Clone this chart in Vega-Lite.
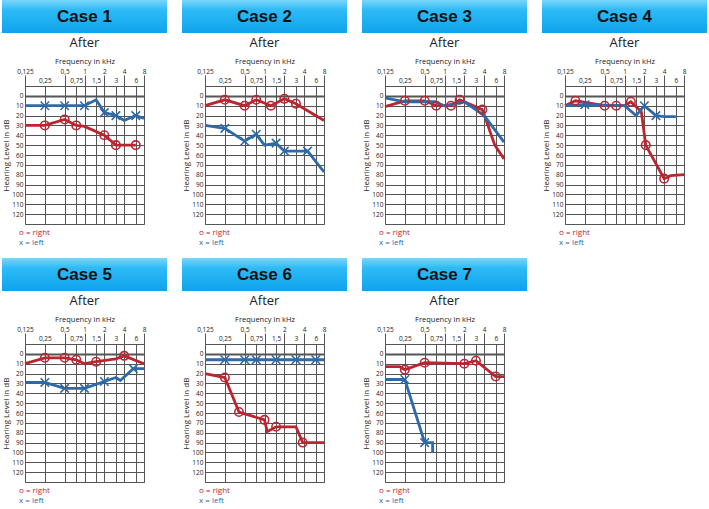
{
"$schema": "https://vega.github.io/schema/vega-lite/v6.json",
"padding": {"left": 2, "top": 0, "right": 0, "bottom": 0},
"columns": 4,
"spacing": {"row": 10, "column": 15},
"datasets": {"pts": [
{"c":1,"e":"right","i":0,"f":0.125,"db":30,"m":0},{"c":1,"e":"right","i":1,"f":0.25,"db":30,"m":1},{"c":1,"e":"right","i":2,"f":0.5,"db":24,"m":1},{"c":1,"e":"right","i":3,"f":0.75,"db":30,"m":1},{"c":1,"e":"right","i":4,"f":1,"db":31,"m":0},{"c":1,"e":"right","i":5,"f":2,"db":40,"m":1},{"c":1,"e":"right","i":6,"f":3,"db":50,"m":1},{"c":1,"e":"right","i":7,"f":6,"db":50,"m":1},
{"c":1,"e":"left","i":0,"f":0.125,"db":10,"m":0},{"c":1,"e":"left","i":1,"f":0.25,"db":10,"m":1},{"c":1,"e":"left","i":2,"f":0.5,"db":10,"m":1},{"c":1,"e":"left","i":3,"f":1,"db":10,"m":1},{"c":1,"e":"left","i":4,"f":1.5,"db":4,"m":0},{"c":1,"e":"left","i":5,"f":2,"db":17,"m":1},{"c":1,"e":"left","i":6,"f":3,"db":20,"m":1},{"c":1,"e":"left","i":7,"f":4,"db":25,"m":0},{"c":1,"e":"left","i":8,"f":6,"db":20,"m":1},{"c":1,"e":"left","i":9,"f":8,"db":23,"m":0},
{"c":2,"e":"right","i":0,"f":0.125,"db":10,"m":0},{"c":2,"e":"right","i":1,"f":0.25,"db":4,"m":1},{"c":2,"e":"right","i":2,"f":0.5,"db":10,"m":1},{"c":2,"e":"right","i":3,"f":0.75,"db":4,"m":1},{"c":2,"e":"right","i":4,"f":1.25,"db":10,"m":1},{"c":2,"e":"right","i":5,"f":2,"db":3,"m":1},{"c":2,"e":"right","i":6,"f":3,"db":8,"m":1},{"c":2,"e":"right","i":7,"f":8,"db":25,"m":0},
{"c":2,"e":"left","i":0,"f":0.125,"db":30,"m":0},{"c":2,"e":"left","i":1,"f":0.25,"db":33,"m":1},{"c":2,"e":"left","i":2,"f":0.5,"db":46,"m":1},{"c":2,"e":"left","i":3,"f":0.75,"db":39,"m":1},{"c":2,"e":"left","i":4,"f":1,"db":50,"m":0},{"c":2,"e":"left","i":5,"f":1.5,"db":48,"m":1},{"c":2,"e":"left","i":6,"f":2,"db":56,"m":1},{"c":2,"e":"left","i":7,"f":4.5,"db":56,"m":1},{"c":2,"e":"left","i":8,"f":8,"db":77,"m":0},
{"c":3,"e":"right","i":0,"f":0.125,"db":11,"m":0},{"c":3,"e":"right","i":1,"f":0.25,"db":5,"m":1},{"c":3,"e":"right","i":2,"f":0.5,"db":5,"m":1},{"c":3,"e":"right","i":3,"f":0.75,"db":10,"m":1},{"c":3,"e":"right","i":4,"f":1.25,"db":10,"m":1},{"c":3,"e":"right","i":5,"f":1.7,"db":4,"m":1},{"c":3,"e":"right","i":6,"f":3.75,"db":14,"m":1},{"c":3,"e":"right","i":7,"f":4.3,"db":25,"m":0},{"c":3,"e":"right","i":8,"f":5.8,"db":50,"m":0},{"c":3,"e":"right","i":9,"f":8,"db":64,"m":0},
{"c":3,"e":"left","i":0,"f":0.125,"db":2,"m":0},{"c":3,"e":"left","i":1,"f":0.25,"db":6,"m":0},{"c":3,"e":"left","i":2,"f":0.7,"db":6,"m":0},{"c":3,"e":"left","i":3,"f":1,"db":10,"m":0},{"c":3,"e":"left","i":4,"f":2,"db":6,"m":0},{"c":3,"e":"left","i":5,"f":4,"db":20,"m":0},{"c":3,"e":"left","i":6,"f":8,"db":47,"m":0},
{"c":4,"e":"right","i":0,"f":0.125,"db":10,"m":0},{"c":4,"e":"right","i":1,"f":0.18,"db":5,"m":1},{"c":4,"e":"right","i":2,"f":0.5,"db":10,"m":1},{"c":4,"e":"right","i":3,"f":0.75,"db":10,"m":1},{"c":4,"e":"right","i":4,"f":1,"db":10,"m":0},{"c":4,"e":"right","i":5,"f":1.25,"db":6,"m":1},{"c":4,"e":"right","i":6,"f":1.8,"db":16,"m":0},{"c":4,"e":"right","i":7,"f":2.1,"db":50,"m":1},{"c":4,"e":"right","i":8,"f":4,"db":84,"m":1},{"c":4,"e":"right","i":9,"f":5,"db":81,"m":0},{"c":4,"e":"right","i":10,"f":8,"db":80,"m":0},
{"c":4,"e":"left","i":0,"f":0.125,"db":10,"m":0},{"c":4,"e":"left","i":1,"f":0.25,"db":9,"m":1},{"c":4,"e":"left","i":2,"f":1,"db":10,"m":0},{"c":4,"e":"left","i":3,"f":1.5,"db":20,"m":0},{"c":4,"e":"left","i":4,"f":2,"db":10,"m":1},{"c":4,"e":"left","i":5,"f":3,"db":20,"m":1},{"c":4,"e":"left","i":6,"f":4,"db":21,"m":0},{"c":4,"e":"left","i":7,"f":6,"db":21,"m":0},
{"c":5,"e":"right","i":0,"f":0.125,"db":10,"m":0},{"c":5,"e":"right","i":1,"f":0.25,"db":4,"m":1},{"c":5,"e":"right","i":2,"f":0.5,"db":4,"m":1},{"c":5,"e":"right","i":3,"f":0.75,"db":6,"m":1},{"c":5,"e":"right","i":4,"f":1,"db":10,"m":0},{"c":5,"e":"right","i":5,"f":1.5,"db":8,"m":1},{"c":5,"e":"right","i":6,"f":3,"db":5,"m":0},{"c":5,"e":"right","i":7,"f":4,"db":2,"m":1},{"c":5,"e":"right","i":8,"f":8,"db":10,"m":0},
{"c":5,"e":"left","i":0,"f":0.125,"db":29,"m":0},{"c":5,"e":"left","i":1,"f":0.25,"db":29,"m":1},{"c":5,"e":"left","i":2,"f":0.5,"db":35,"m":1},{"c":5,"e":"left","i":3,"f":1,"db":35,"m":1},{"c":5,"e":"left","i":4,"f":2,"db":28,"m":1},{"c":5,"e":"left","i":5,"f":3,"db":24,"m":0},{"c":5,"e":"left","i":6,"f":3.5,"db":27,"m":0},{"c":5,"e":"left","i":7,"f":5.5,"db":15,"m":1},{"c":5,"e":"left","i":8,"f":8,"db":15,"m":0},
{"c":6,"e":"right","i":0,"f":0.125,"db":20,"m":0},{"c":6,"e":"right","i":1,"f":0.25,"db":24,"m":1},{"c":6,"e":"right","i":2,"f":0.41,"db":59,"m":1},{"c":6,"e":"right","i":3,"f":1,"db":67,"m":1},{"c":6,"e":"right","i":4,"f":1.1,"db":79,"m":0},{"c":6,"e":"right","i":5,"f":1.5,"db":74,"m":1},{"c":6,"e":"right","i":6,"f":3,"db":74,"m":0},{"c":6,"e":"right","i":7,"f":3.8,"db":90,"m":1},{"c":6,"e":"right","i":8,"f":8,"db":90,"m":0},
{"c":6,"e":"left","i":0,"f":0.125,"db":6,"m":0},{"c":6,"e":"left","i":1,"f":0.25,"db":6,"m":1},{"c":6,"e":"left","i":2,"f":0.5,"db":6,"m":1},{"c":6,"e":"left","i":3,"f":0.75,"db":6,"m":1},{"c":6,"e":"left","i":4,"f":1.5,"db":6,"m":1},{"c":6,"e":"left","i":5,"f":3,"db":6,"m":1},{"c":6,"e":"left","i":6,"f":6,"db":6,"m":1},{"c":6,"e":"left","i":7,"f":8,"db":6,"m":0},
{"c":7,"e":"right","i":0,"f":0.125,"db":13,"m":0},{"c":7,"e":"right","i":1,"f":0.21,"db":13,"m":0},{"c":7,"e":"right","i":2,"f":0.25,"db":16,"m":1},{"c":7,"e":"right","i":3,"f":0.5,"db":9,"m":1},{"c":7,"e":"right","i":4,"f":2,"db":10,"m":1},{"c":7,"e":"right","i":5,"f":3,"db":7,"m":1},{"c":7,"e":"right","i":6,"f":6,"db":23,"m":1},{"c":7,"e":"right","i":7,"f":8,"db":23,"m":0},
{"c":7,"e":"left","i":0,"f":0.125,"db":26,"m":0},{"c":7,"e":"left","i":1,"f":0.25,"db":26,"m":1},{"c":7,"e":"left","i":2,"f":0.5,"db":90,"m":1},{"c":7,"e":"left","i":3,"f":0.66,"db":90,"m":0},{"c":7,"e":"left","i":4,"f":0.66,"db":100,"m":0}
]},
"concat": [
{"spacing": 3, "vconcat": [
 {"width": 119, "height": 33, "data": {"values": [{"case": "Case 1"}]}, "layer": [
  {"mark": {"type": "rect", "fill": {"gradient": "linear", "x1": 0, "y1": 0, "x2": 0, "y2": 1, "stops": [{"offset": 0, "color": "#7ad6fb"}, {"offset": 0.3, "color": "#2ebbf7"}, {"offset": 1, "color": "#0fa3ec"}]}}, "encoding": {"x": {"field": "case", "type": "nominal", "axis": null, "scale": {"paddingInner": 0, "paddingOuter": 0, "range": [-23, 142]}}}},
  {"mark": {"type": "text", "font": "Liberation Sans", "fontWeight": "bold", "fontSize": 17, "color": "#111"}, "encoding": {"x": {"field": "case", "type": "nominal", "axis": null}, "text": {"field": "case"}}}]},
 {"width": 119, "height": 138, "view": {"stroke": "#555"}, "title": "After", "data": {"name": "pts"}, "transform": [{"filter": "datum.c == 1"}],
  "encoding": {
   "x": {"field": "f", "type": "quantitative", "scale": {"type": "log", "base": 2, "domain": [0.125, 8], "nice": false}, "axis": {"orient": "top", "title": "Frequency in kHz", "values": [0.125,0.25,0.5,0.75,1,1.5,2,3,4,6,8], "labelExpr": "replace(toString(datum.value), '.', ',')", "labelPadding": {"condition": {"test": "indexof([0.25,0.75,1.5,3,6], datum.value) >= 0", "value": -8}, "value": 1}, "tickOpacity": {"condition": {"test": "indexof([0.25,0.75,1.5,3,6], datum.value) >= 0", "value": 0}, "value": 1}}},
   "y": {"field": "db", "type": "quantitative", "scale": {"domain": [-10, 130], "reverse": true, "nice": false, "zero": false}, "axis": {"values": [0,10,20,30,40,50,60,70,80,90,100,110,120], "title": "Hearing Level in dB", "gridWidth": {"condition": {"test": "datum.value === 0", "value": 2}, "value": 1}}},
   "color": {"field": "e", "type": "nominal", "scale": {"domain": ["right","left"], "range": ["#bb2530","#2e6aa8"]}, "legend": null}},
  "layer": [
   {"mark": {"type": "line", "strokeWidth": 2.8}, "encoding": {"order": {"field": "i", "type": "quantitative"}}},
   {"transform": [{"filter": "datum.m == 1"}], "mark": {"type": "point", "filled": false, "size": 72, "strokeWidth": 1.6, "opacity": 1}, "encoding": {"shape": {"field": "e", "type": "nominal", "scale": {"domain": ["right","left"], "range": ["circle", "M-1,-1L1,1M-1,1L1,-1"]}, "legend": null}}}]},
 {"width": 36, "height": 20, "data": {"values": [{"e": "right", "t": "o = right"}, {"e": "left", "t": "x = left"}]}, "mark": {"type": "text", "align": "left", "fontSize": 8, "font": "Open Sans"}, "encoding": {"x": {"datum": "k", "type": "nominal", "axis": null, "scale": {"range": [-6, -6]}}, "y": {"field": "t", "type": "nominal", "sort": null, "axis": null}, "text": {"field": "t"}, "color": {"field": "e", "type": "nominal", "scale": {"domain": ["right","left"], "range": ["#c4213a","#3a6fb0"]}, "legend": null}}}
]},
{"spacing": 3, "vconcat": [
 {"width": 119, "height": 33, "data": {"values": [{"case": "Case 2"}]}, "layer": [
  {"mark": {"type": "rect", "fill": {"gradient": "linear", "x1": 0, "y1": 0, "x2": 0, "y2": 1, "stops": [{"offset": 0, "color": "#7ad6fb"}, {"offset": 0.3, "color": "#2ebbf7"}, {"offset": 1, "color": "#0fa3ec"}]}}, "encoding": {"x": {"field": "case", "type": "nominal", "axis": null, "scale": {"paddingInner": 0, "paddingOuter": 0, "range": [-23, 142]}}}},
  {"mark": {"type": "text", "font": "Liberation Sans", "fontWeight": "bold", "fontSize": 17, "color": "#111"}, "encoding": {"x": {"field": "case", "type": "nominal", "axis": null}, "text": {"field": "case"}}}]},
 {"width": 119, "height": 138, "view": {"stroke": "#555"}, "title": "After", "data": {"name": "pts"}, "transform": [{"filter": "datum.c == 2"}],
  "encoding": {
   "x": {"field": "f", "type": "quantitative", "scale": {"type": "log", "base": 2, "domain": [0.125, 8], "nice": false}, "axis": {"orient": "top", "title": "Frequency in kHz", "values": [0.125,0.25,0.5,0.75,1,1.5,2,3,4,6,8], "labelExpr": "replace(toString(datum.value), '.', ',')", "labelPadding": {"condition": {"test": "indexof([0.25,0.75,1.5,3,6], datum.value) >= 0", "value": -8}, "value": 1}, "tickOpacity": {"condition": {"test": "indexof([0.25,0.75,1.5,3,6], datum.value) >= 0", "value": 0}, "value": 1}}},
   "y": {"field": "db", "type": "quantitative", "scale": {"domain": [-10, 130], "reverse": true, "nice": false, "zero": false}, "axis": {"values": [0,10,20,30,40,50,60,70,80,90,100,110,120], "title": "Hearing Level in dB", "gridWidth": {"condition": {"test": "datum.value === 0", "value": 2}, "value": 1}}},
   "color": {"field": "e", "type": "nominal", "scale": {"domain": ["right","left"], "range": ["#bb2530","#2e6aa8"]}, "legend": null}},
  "layer": [
   {"mark": {"type": "line", "strokeWidth": 2.8}, "encoding": {"order": {"field": "i", "type": "quantitative"}}},
   {"transform": [{"filter": "datum.m == 1"}], "mark": {"type": "point", "filled": false, "size": 72, "strokeWidth": 1.6, "opacity": 1}, "encoding": {"shape": {"field": "e", "type": "nominal", "scale": {"domain": ["right","left"], "range": ["circle", "M-1,-1L1,1M-1,1L1,-1"]}, "legend": null}}}]},
 {"width": 36, "height": 20, "data": {"values": [{"e": "right", "t": "o = right"}, {"e": "left", "t": "x = left"}]}, "mark": {"type": "text", "align": "left", "fontSize": 8, "font": "Open Sans"}, "encoding": {"x": {"datum": "k", "type": "nominal", "axis": null, "scale": {"range": [-6, -6]}}, "y": {"field": "t", "type": "nominal", "sort": null, "axis": null}, "text": {"field": "t"}, "color": {"field": "e", "type": "nominal", "scale": {"domain": ["right","left"], "range": ["#c4213a","#3a6fb0"]}, "legend": null}}}
]},
{"spacing": 3, "vconcat": [
 {"width": 119, "height": 33, "data": {"values": [{"case": "Case 3"}]}, "layer": [
  {"mark": {"type": "rect", "fill": {"gradient": "linear", "x1": 0, "y1": 0, "x2": 0, "y2": 1, "stops": [{"offset": 0, "color": "#7ad6fb"}, {"offset": 0.3, "color": "#2ebbf7"}, {"offset": 1, "color": "#0fa3ec"}]}}, "encoding": {"x": {"field": "case", "type": "nominal", "axis": null, "scale": {"paddingInner": 0, "paddingOuter": 0, "range": [-23, 142]}}}},
  {"mark": {"type": "text", "font": "Liberation Sans", "fontWeight": "bold", "fontSize": 17, "color": "#111"}, "encoding": {"x": {"field": "case", "type": "nominal", "axis": null}, "text": {"field": "case"}}}]},
 {"width": 119, "height": 138, "view": {"stroke": "#555"}, "title": "After", "data": {"name": "pts"}, "transform": [{"filter": "datum.c == 3"}],
  "encoding": {
   "x": {"field": "f", "type": "quantitative", "scale": {"type": "log", "base": 2, "domain": [0.125, 8], "nice": false}, "axis": {"orient": "top", "title": "Frequency in kHz", "values": [0.125,0.25,0.5,0.75,1,1.5,2,3,4,6,8], "labelExpr": "replace(toString(datum.value), '.', ',')", "labelPadding": {"condition": {"test": "indexof([0.25,0.75,1.5,3,6], datum.value) >= 0", "value": -8}, "value": 1}, "tickOpacity": {"condition": {"test": "indexof([0.25,0.75,1.5,3,6], datum.value) >= 0", "value": 0}, "value": 1}}},
   "y": {"field": "db", "type": "quantitative", "scale": {"domain": [-10, 130], "reverse": true, "nice": false, "zero": false}, "axis": {"values": [0,10,20,30,40,50,60,70,80,90,100,110,120], "title": "Hearing Level in dB", "gridWidth": {"condition": {"test": "datum.value === 0", "value": 2}, "value": 1}}},
   "color": {"field": "e", "type": "nominal", "scale": {"domain": ["right","left"], "range": ["#bb2530","#2e6aa8"]}, "legend": null}},
  "layer": [
   {"mark": {"type": "line", "strokeWidth": 2.8}, "encoding": {"order": {"field": "i", "type": "quantitative"}}},
   {"transform": [{"filter": "datum.m == 1"}], "mark": {"type": "point", "filled": false, "size": 72, "strokeWidth": 1.6, "opacity": 1}, "encoding": {"shape": {"field": "e", "type": "nominal", "scale": {"domain": ["right","left"], "range": ["circle", "M-1,-1L1,1M-1,1L1,-1"]}, "legend": null}}}]},
 {"width": 36, "height": 20, "data": {"values": [{"e": "right", "t": "o = right"}, {"e": "left", "t": "x = left"}]}, "mark": {"type": "text", "align": "left", "fontSize": 8, "font": "Open Sans"}, "encoding": {"x": {"datum": "k", "type": "nominal", "axis": null, "scale": {"range": [-6, -6]}}, "y": {"field": "t", "type": "nominal", "sort": null, "axis": null}, "text": {"field": "t"}, "color": {"field": "e", "type": "nominal", "scale": {"domain": ["right","left"], "range": ["#c4213a","#3a6fb0"]}, "legend": null}}}
]},
{"spacing": 3, "vconcat": [
 {"width": 119, "height": 33, "data": {"values": [{"case": "Case 4"}]}, "layer": [
  {"mark": {"type": "rect", "fill": {"gradient": "linear", "x1": 0, "y1": 0, "x2": 0, "y2": 1, "stops": [{"offset": 0, "color": "#7ad6fb"}, {"offset": 0.3, "color": "#2ebbf7"}, {"offset": 1, "color": "#0fa3ec"}]}}, "encoding": {"x": {"field": "case", "type": "nominal", "axis": null, "scale": {"paddingInner": 0, "paddingOuter": 0, "range": [-23, 142]}}}},
  {"mark": {"type": "text", "font": "Liberation Sans", "fontWeight": "bold", "fontSize": 17, "color": "#111"}, "encoding": {"x": {"field": "case", "type": "nominal", "axis": null}, "text": {"field": "case"}}}]},
 {"width": 119, "height": 138, "view": {"stroke": "#555"}, "title": "After", "data": {"name": "pts"}, "transform": [{"filter": "datum.c == 4"}],
  "encoding": {
   "x": {"field": "f", "type": "quantitative", "scale": {"type": "log", "base": 2, "domain": [0.125, 8], "nice": false}, "axis": {"orient": "top", "title": "Frequency in kHz", "values": [0.125,0.25,0.5,0.75,1,1.5,2,3,4,6,8], "labelExpr": "replace(toString(datum.value), '.', ',')", "labelPadding": {"condition": {"test": "indexof([0.25,0.75,1.5,3,6], datum.value) >= 0", "value": -8}, "value": 1}, "tickOpacity": {"condition": {"test": "indexof([0.25,0.75,1.5,3,6], datum.value) >= 0", "value": 0}, "value": 1}}},
   "y": {"field": "db", "type": "quantitative", "scale": {"domain": [-10, 130], "reverse": true, "nice": false, "zero": false}, "axis": {"values": [0,10,20,30,40,50,60,70,80,90,100,110,120], "title": "Hearing Level in dB", "gridWidth": {"condition": {"test": "datum.value === 0", "value": 2}, "value": 1}}},
   "color": {"field": "e", "type": "nominal", "scale": {"domain": ["right","left"], "range": ["#bb2530","#2e6aa8"]}, "legend": null}},
  "layer": [
   {"mark": {"type": "line", "strokeWidth": 2.8}, "encoding": {"order": {"field": "i", "type": "quantitative"}}},
   {"transform": [{"filter": "datum.m == 1"}], "mark": {"type": "point", "filled": false, "size": 72, "strokeWidth": 1.6, "opacity": 1}, "encoding": {"shape": {"field": "e", "type": "nominal", "scale": {"domain": ["right","left"], "range": ["circle", "M-1,-1L1,1M-1,1L1,-1"]}, "legend": null}}}]},
 {"width": 36, "height": 20, "data": {"values": [{"e": "right", "t": "o = right"}, {"e": "left", "t": "x = left"}]}, "mark": {"type": "text", "align": "left", "fontSize": 8, "font": "Open Sans"}, "encoding": {"x": {"datum": "k", "type": "nominal", "axis": null, "scale": {"range": [-6, -6]}}, "y": {"field": "t", "type": "nominal", "sort": null, "axis": null}, "text": {"field": "t"}, "color": {"field": "e", "type": "nominal", "scale": {"domain": ["right","left"], "range": ["#c4213a","#3a6fb0"]}, "legend": null}}}
]},
{"spacing": 3, "vconcat": [
 {"width": 119, "height": 33, "data": {"values": [{"case": "Case 5"}]}, "layer": [
  {"mark": {"type": "rect", "fill": {"gradient": "linear", "x1": 0, "y1": 0, "x2": 0, "y2": 1, "stops": [{"offset": 0, "color": "#7ad6fb"}, {"offset": 0.3, "color": "#2ebbf7"}, {"offset": 1, "color": "#0fa3ec"}]}}, "encoding": {"x": {"field": "case", "type": "nominal", "axis": null, "scale": {"paddingInner": 0, "paddingOuter": 0, "range": [-23, 142]}}}},
  {"mark": {"type": "text", "font": "Liberation Sans", "fontWeight": "bold", "fontSize": 17, "color": "#111"}, "encoding": {"x": {"field": "case", "type": "nominal", "axis": null}, "text": {"field": "case"}}}]},
 {"width": 119, "height": 138, "view": {"stroke": "#555"}, "title": "After", "data": {"name": "pts"}, "transform": [{"filter": "datum.c == 5"}],
  "encoding": {
   "x": {"field": "f", "type": "quantitative", "scale": {"type": "log", "base": 2, "domain": [0.125, 8], "nice": false}, "axis": {"orient": "top", "title": "Frequency in kHz", "values": [0.125,0.25,0.5,0.75,1,1.5,2,3,4,6,8], "labelExpr": "replace(toString(datum.value), '.', ',')", "labelPadding": {"condition": {"test": "indexof([0.25,0.75,1.5,3,6], datum.value) >= 0", "value": -8}, "value": 1}, "tickOpacity": {"condition": {"test": "indexof([0.25,0.75,1.5,3,6], datum.value) >= 0", "value": 0}, "value": 1}}},
   "y": {"field": "db", "type": "quantitative", "scale": {"domain": [-10, 130], "reverse": true, "nice": false, "zero": false}, "axis": {"values": [0,10,20,30,40,50,60,70,80,90,100,110,120], "title": "Hearing Level in dB", "gridWidth": {"condition": {"test": "datum.value === 0", "value": 2}, "value": 1}}},
   "color": {"field": "e", "type": "nominal", "scale": {"domain": ["right","left"], "range": ["#bb2530","#2e6aa8"]}, "legend": null}},
  "layer": [
   {"mark": {"type": "line", "strokeWidth": 2.8}, "encoding": {"order": {"field": "i", "type": "quantitative"}}},
   {"transform": [{"filter": "datum.m == 1"}], "mark": {"type": "point", "filled": false, "size": 72, "strokeWidth": 1.6, "opacity": 1}, "encoding": {"shape": {"field": "e", "type": "nominal", "scale": {"domain": ["right","left"], "range": ["circle", "M-1,-1L1,1M-1,1L1,-1"]}, "legend": null}}}]},
 {"width": 36, "height": 20, "data": {"values": [{"e": "right", "t": "o = right"}, {"e": "left", "t": "x = left"}]}, "mark": {"type": "text", "align": "left", "fontSize": 8, "font": "Open Sans"}, "encoding": {"x": {"datum": "k", "type": "nominal", "axis": null, "scale": {"range": [-6, -6]}}, "y": {"field": "t", "type": "nominal", "sort": null, "axis": null}, "text": {"field": "t"}, "color": {"field": "e", "type": "nominal", "scale": {"domain": ["right","left"], "range": ["#c4213a","#3a6fb0"]}, "legend": null}}}
]},
{"spacing": 3, "vconcat": [
 {"width": 119, "height": 33, "data": {"values": [{"case": "Case 6"}]}, "layer": [
  {"mark": {"type": "rect", "fill": {"gradient": "linear", "x1": 0, "y1": 0, "x2": 0, "y2": 1, "stops": [{"offset": 0, "color": "#7ad6fb"}, {"offset": 0.3, "color": "#2ebbf7"}, {"offset": 1, "color": "#0fa3ec"}]}}, "encoding": {"x": {"field": "case", "type": "nominal", "axis": null, "scale": {"paddingInner": 0, "paddingOuter": 0, "range": [-23, 142]}}}},
  {"mark": {"type": "text", "font": "Liberation Sans", "fontWeight": "bold", "fontSize": 17, "color": "#111"}, "encoding": {"x": {"field": "case", "type": "nominal", "axis": null}, "text": {"field": "case"}}}]},
 {"width": 119, "height": 138, "view": {"stroke": "#555"}, "title": "After", "data": {"name": "pts"}, "transform": [{"filter": "datum.c == 6"}],
  "encoding": {
   "x": {"field": "f", "type": "quantitative", "scale": {"type": "log", "base": 2, "domain": [0.125, 8], "nice": false}, "axis": {"orient": "top", "title": "Frequency in kHz", "values": [0.125,0.25,0.5,0.75,1,1.5,2,3,4,6,8], "labelExpr": "replace(toString(datum.value), '.', ',')", "labelPadding": {"condition": {"test": "indexof([0.25,0.75,1.5,3,6], datum.value) >= 0", "value": -8}, "value": 1}, "tickOpacity": {"condition": {"test": "indexof([0.25,0.75,1.5,3,6], datum.value) >= 0", "value": 0}, "value": 1}}},
   "y": {"field": "db", "type": "quantitative", "scale": {"domain": [-10, 130], "reverse": true, "nice": false, "zero": false}, "axis": {"values": [0,10,20,30,40,50,60,70,80,90,100,110,120], "title": "Hearing Level in dB", "gridWidth": {"condition": {"test": "datum.value === 0", "value": 2}, "value": 1}}},
   "color": {"field": "e", "type": "nominal", "scale": {"domain": ["right","left"], "range": ["#bb2530","#2e6aa8"]}, "legend": null}},
  "layer": [
   {"mark": {"type": "line", "strokeWidth": 2.8}, "encoding": {"order": {"field": "i", "type": "quantitative"}}},
   {"transform": [{"filter": "datum.m == 1"}], "mark": {"type": "point", "filled": false, "size": 72, "strokeWidth": 1.6, "opacity": 1}, "encoding": {"shape": {"field": "e", "type": "nominal", "scale": {"domain": ["right","left"], "range": ["circle", "M-1,-1L1,1M-1,1L1,-1"]}, "legend": null}}}]},
 {"width": 36, "height": 20, "data": {"values": [{"e": "right", "t": "o = right"}, {"e": "left", "t": "x = left"}]}, "mark": {"type": "text", "align": "left", "fontSize": 8, "font": "Open Sans"}, "encoding": {"x": {"datum": "k", "type": "nominal", "axis": null, "scale": {"range": [-6, -6]}}, "y": {"field": "t", "type": "nominal", "sort": null, "axis": null}, "text": {"field": "t"}, "color": {"field": "e", "type": "nominal", "scale": {"domain": ["right","left"], "range": ["#c4213a","#3a6fb0"]}, "legend": null}}}
]},
{"spacing": 3, "vconcat": [
 {"width": 119, "height": 33, "data": {"values": [{"case": "Case 7"}]}, "layer": [
  {"mark": {"type": "rect", "fill": {"gradient": "linear", "x1": 0, "y1": 0, "x2": 0, "y2": 1, "stops": [{"offset": 0, "color": "#7ad6fb"}, {"offset": 0.3, "color": "#2ebbf7"}, {"offset": 1, "color": "#0fa3ec"}]}}, "encoding": {"x": {"field": "case", "type": "nominal", "axis": null, "scale": {"paddingInner": 0, "paddingOuter": 0, "range": [-23, 142]}}}},
  {"mark": {"type": "text", "font": "Liberation Sans", "fontWeight": "bold", "fontSize": 17, "color": "#111"}, "encoding": {"x": {"field": "case", "type": "nominal", "axis": null}, "text": {"field": "case"}}}]},
 {"width": 119, "height": 138, "view": {"stroke": "#555"}, "title": "After", "data": {"name": "pts"}, "transform": [{"filter": "datum.c == 7"}],
  "encoding": {
   "x": {"field": "f", "type": "quantitative", "scale": {"type": "log", "base": 2, "domain": [0.125, 8], "nice": false}, "axis": {"orient": "top", "title": "Frequency in kHz", "values": [0.125,0.25,0.5,0.75,1,1.5,2,3,4,6,8], "labelExpr": "replace(toString(datum.value), '.', ',')", "labelPadding": {"condition": {"test": "indexof([0.25,0.75,1.5,3,6], datum.value) >= 0", "value": -8}, "value": 1}, "tickOpacity": {"condition": {"test": "indexof([0.25,0.75,1.5,3,6], datum.value) >= 0", "value": 0}, "value": 1}}},
   "y": {"field": "db", "type": "quantitative", "scale": {"domain": [-10, 130], "reverse": true, "nice": false, "zero": false}, "axis": {"values": [0,10,20,30,40,50,60,70,80,90,100,110,120], "title": "Hearing Level in dB", "gridWidth": {"condition": {"test": "datum.value === 0", "value": 2}, "value": 1}}},
   "color": {"field": "e", "type": "nominal", "scale": {"domain": ["right","left"], "range": ["#bb2530","#2e6aa8"]}, "legend": null}},
  "layer": [
   {"mark": {"type": "line", "strokeWidth": 2.8}, "encoding": {"order": {"field": "i", "type": "quantitative"}}},
   {"transform": [{"filter": "datum.m == 1"}], "mark": {"type": "point", "filled": false, "size": 72, "strokeWidth": 1.6, "opacity": 1}, "encoding": {"shape": {"field": "e", "type": "nominal", "scale": {"domain": ["right","left"], "range": ["circle", "M-1,-1L1,1M-1,1L1,-1"]}, "legend": null}}}]},
 {"width": 36, "height": 20, "data": {"values": [{"e": "right", "t": "o = right"}, {"e": "left", "t": "x = left"}]}, "mark": {"type": "text", "align": "left", "fontSize": 8, "font": "Open Sans"}, "encoding": {"x": {"datum": "k", "type": "nominal", "axis": null, "scale": {"range": [-6, -6]}}, "y": {"field": "t", "type": "nominal", "sort": null, "axis": null}, "text": {"field": "t"}, "color": {"field": "e", "type": "nominal", "scale": {"domain": ["right","left"], "range": ["#c4213a","#3a6fb0"]}, "legend": null}}}
]}
],
"config": {
 "font": "Open Sans",
 "view": {"stroke": null},
 "title": {"fontSize": 13, "font": "Open Sans", "fontWeight": "normal", "color": "#222", "offset": 7},
 "axisX": {"grid": true, "gridColor": "#555", "gridOpacity": 1, "domain": false, "ticks": true, "tickSize": 11, "tickColor": "#555", "tickWidth": 1, "labelFontSize": 6.5, "labelColor": "#222", "labelFont": "Open Sans", "labelOverlap": false, "labelFlush": false, "labelBound": false, "titleFontSize": 7.5, "titleFontWeight": "normal", "titleColor": "#222", "titlePadding": 3, "titleFont": "Open Sans"},
 "axisY": {"grid": true, "gridColor": "#555", "gridOpacity": 1, "domain": false, "ticks": false, "labelFontSize": 6.5, "labelColor": "#222", "labelFont": "Open Sans", "labelPadding": 2, "labelOverlap": false, "titleFontSize": 8, "titleFontWeight": "normal", "titleColor": "#222", "titlePadding": 1, "titleFont": "Open Sans"}
}
}
